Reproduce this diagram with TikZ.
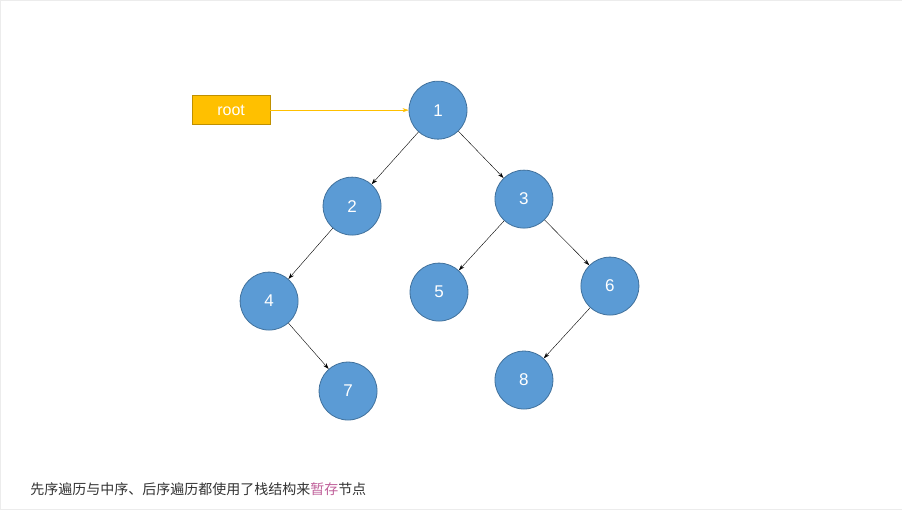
\documentclass[tikz,border=0pt]{standalone}
\usepackage{fontspec}
\setmainfont{Liberation Sans}
\newfontfamily\cjk{Noto Sans CJK SC}
\usetikzlibrary{arrows.meta}
\definecolor{nodeblue}{HTML}{5B9BD5}
\definecolor{nodeedge}{HTML}{41719C}
\definecolor{rootfill}{HTML}{FFC000}
\definecolor{rootedge}{HTML}{BF9000}
\definecolor{hilite}{HTML}{C0609A}

\begin{document}
\begin{tikzpicture}[x=1pt,y=-1pt,
        tnode/.style={circle,draw=nodeedge,fill=nodeblue,thick,minimum size=58pt,
            text=white,font=\fontsize{17}{17}\selectfont},
        edge/.style={-{Stealth[length=6pt,width=4pt]},thin}]
    \draw[gray!15,fill=white] (0,0) rectangle (902,509);
    \useasboundingbox (0,0) rectangle (902,509);
    \node[tnode] (n1) at (438,110) {1};
    \node[tnode] (n2) at (352,206) {2};
    \node[tnode] (n3) at (524,199) {3};
    \node[tnode] (n4) at (269,301) {4};
    \node[tnode] (n5) at (439,292) {5};
    \node[tnode] (n6) at (610,286) {6};
    \node[tnode] (n7) at (348,391) {7};
    \node[tnode] (n8) at (524,380) {8};
    \node[draw=rootedge,fill=rootfill,minimum width=78pt,minimum height=29pt,
        text=white,font=\fontsize{16}{16}\selectfont] (root) at (231,110) {root};
    \draw[edge,rootfill] (root) -- (n1);
    \draw[edge] (n1) -- (n2);
    \draw[edge] (n1) -- (n3);
    \draw[edge] (n2) -- (n4);
    \draw[edge] (n4) -- (n7);
    \draw[edge] (n3) -- (n5);
    \draw[edge] (n3) -- (n6);
    \draw[edge] (n6) -- (n8);
    \node[anchor=base west,inner sep=0pt,text=black!80,font=\cjk\fontsize{14}{14}\selectfont]
        (note) at (30,495) {先序遍历与中序、后序遍历都使用了栈结构来\textcolor{hilite}{暂存}节点};
\end{tikzpicture}
\end{document}
